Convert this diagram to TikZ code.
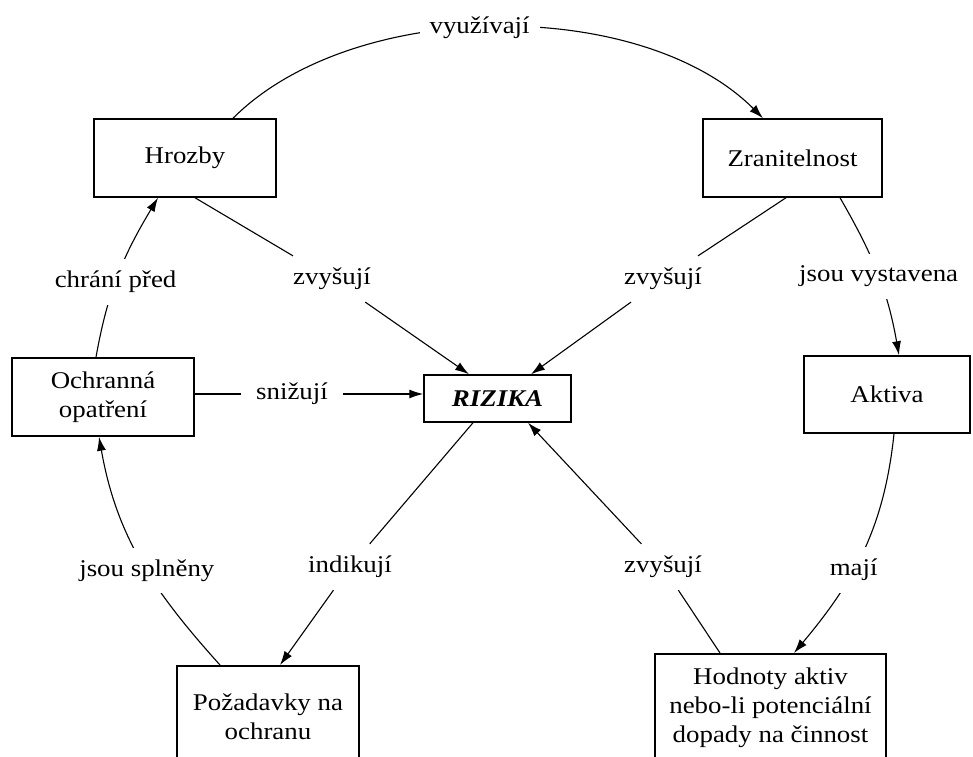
\documentclass[tikz,border=0pt]{standalone}
\usepackage{fontspec}
\setmainfont{Liberation Serif}[FakeStretch=1.12]
\usetikzlibrary{arrows.meta}
\begin{document}
\begin{tikzpicture}[x=1pt,y=1pt,
  every node/.style={font=\fontsize{24}{29}\selectfont},
  box/.style={draw, line width=1.5pt, align=center, inner sep=2pt},
  lbl/.style={inner xsep=10pt, inner ysep=12pt},
  wlbl/.style={lbl, fill=white},
  conn/.style={line width=1.1pt},
  arr/.style={conn, -{Latex[length=14pt,width=9pt]}}]
\useasboundingbox (0,0) rectangle (973,756);
\clip (0,0) rectangle (973,756);
% boxes
\node[box, minimum width=182, minimum height=78] (hrozby) at (185,598) {Hrozby};
\node[box, minimum width=179, minimum height=78] (zran) at (792.5,598) {Zranitelnost};
\node[box, minimum width=182, minimum height=78] (ochr) at (103,359) {Ochranná\\opatření};
\node[box, minimum width=147, minimum height=47] (rizika) at (497.5,357.5) {\textbf{\textit{RIZIKA}}};
\node[box, minimum width=166, minimum height=77] (aktiva) at (887,361.5) {Aktiva};
\node[box, anchor=north, minimum width=182, minimum height=102] (pozad) at (268,91) {Požadavky na\\ochranu};
\node[box, anchor=north, minimum width=231, minimum height=108] (hodn) at (770.5,103) {Hodnoty aktiv\\nebo-li potenciální\\dopady na činnost};
% straight-line labels
\node[lbl] (zv1) at (332,477) {zvyšují};
\node[lbl] (zv2) at (663,477) {zvyšují};
\node[lbl, inner xsep=15pt] (sniz) at (292,362) {snižují};
\node[lbl] (indik) at (350,189) {indikují};
\node[lbl] (zv3) at (663,189) {zvyšují};
% curved connectors with their labels
\draw[arr] ([xshift=48]hrozby.north) to[out=45,in=135,looseness=0.83]
  node[wlbl, pos=0.47] (vyuz) {využívají} ([xshift=-29.5]zran.north);
\draw[arr] ([xshift=47.5]zran.south) to[out=-60,in=100]
  node[wlbl, pos=0.52] (jsouv) {jsou vystavena} ([xshift=12]aktiva.north);
\draw[arr] ([xshift=7]aktiva.south) to[out=-96,in=50]
  node[wlbl, pos=0.59] (maji) {mají} ([xshift=23.5]hodn.north);
\draw[arr] ([xshift=-48]pozad.north) to[out=132,in=-80]
  node[wlbl, pos=0.45] (jsous) {jsou splněny} ([xshift=-4]ochr.south);
\draw[arr] ([xshift=-7]ochr.north) to[out=80,in=-121]
  node[wlbl, pos=0.45] (chrani) {chrání před} ([xshift=-27]hrozby.south);
% straight connectors
\draw[arr] ([xshift=-50.5]hodn.north) -- (zv3) -- ([xshift=30.5]rizika.south);
\draw[arr] ([xshift=-24.5]rizika.south) -- (indik) -- ([xshift=12]pozad.north);
\draw[arr] ([xshift=10]hrozby.south) -- (zv1) -- ([xshift=-28.5]rizika.north);
\draw[arr] ([xshift=-6.5]zran.south) -- (zv2) -- ([xshift=33.5]rizika.north);
\draw[arr] ([yshift=3]ochr.east) -- (sniz) -- ([yshift=4.5]rizika.west);
\end{tikzpicture}
\end{document}
